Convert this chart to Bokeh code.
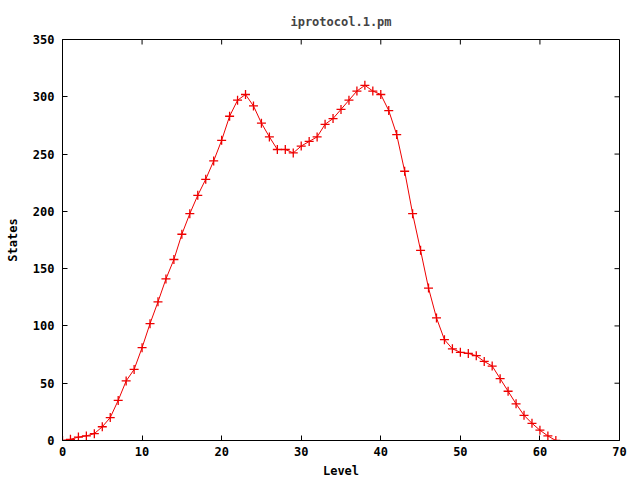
from bokeh.plotting import figure
from bokeh.models import Range1d, FixedTicker
from bokeh.embed import file_html
from bokeh.resources import INLINE

levels = list(range(0, 63))
states = [0, 1, 3, 4, 6, 12, 20, 35, 52, 62,
          81, 102, 121, 141, 158, 180, 198, 214, 228, 244,
          262, 283, 297, 302, 292, 277, 265, 254, 254, 251,
          257, 261, 265, 276, 281, 289, 297, 305, 310, 305,
          302, 288, 267, 235, 198, 166, 133, 107, 88, 80,
          77, 76, 74, 69, 65, 54, 43, 32, 22, 15,
          9, 4, 0]
x_ticks = [0, 10, 20, 30, 40, 50, 60, 70]
y_ticks = [0, 50, 100, 150, 200, 250, 300, 350]
X_MIN, X_MAX = 0, 70
Y_MIN, Y_MAX = 0, 350

FONT = "DejaVu Sans Mono"
FS = "12px"

W, H = 640, 480
BL, BR, BT, BB = 62, 21, 39, 40

p = figure(width=W, height=H, output_backend="svg", toolbar_location=None,
           x_range=Range1d(X_MIN, X_MAX), y_range=Range1d(Y_MIN, Y_MAX),
           min_border_left=BL, min_border_right=BR, min_border_top=BT,
           min_border_bottom=BB, title="iprotocol.1.pm")
p.title.text_font = FONT
p.title.text_font_size = FS
p.title.text_font_style = "bold"
p.title.align = "center"
p.title.vertical_align = "middle"
p.title.standoff = 20
p.grid.visible = False
p.outline_line_color = "black"
p.outline_line_alpha = 1.0
p.background_fill_color = "white"
p.border_fill_color = "white"

xa = p.xaxis[0]
ya = p.yaxis[0]
xa.axis_label = "Level"
ya.axis_label = "States"
xa.ticker = FixedTicker(ticks=x_ticks)
ya.ticker = FixedTicker(ticks=y_ticks)

for ax in [xa, ya]:
    ax.major_tick_in = 5
    ax.major_tick_out = 0
    ax.minor_tick_line_color = None
    ax.axis_line_color = "black"
    ax.major_tick_line_color = "black"
    ax.major_label_text_font = FONT
    ax.major_label_text_font_size = FS
    ax.major_label_text_font_style = "bold"
    ax.major_label_text_color = "black"
    ax.axis_label_text_font = FONT
    ax.axis_label_text_font_size = FS
    ax.axis_label_text_font_style = "bold"
    ax.axis_label_text_color = "black"

xa.major_label_standoff = 6
xa.axis_label_standoff = 5
ya.major_label_standoff = 8
ya.axis_label_standoff = 10

# mirrored inward ticks on top and right edges (gnuplot style)
frame_w = W - BL - BR
frame_h = H - BT - BB
tick_dy = 5 * (Y_MAX - Y_MIN) / frame_h
tick_dx = 5 * (X_MAX - X_MIN) / frame_w
p.segment(x0=x_ticks, y0=[Y_MAX] * len(x_ticks), x1=x_ticks,
          y1=[Y_MAX - tick_dy] * len(x_ticks), line_color="black", line_width=1)
p.segment(x0=[X_MAX] * len(y_ticks), y0=y_ticks, x1=[X_MAX - tick_dx] * len(y_ticks),
          y1=y_ticks, line_color="black", line_width=1)

p.line(levels, states, line_color="#ee0000", line_width=1)
p.scatter(levels, states, marker="cross", size=9, line_color="#ee0000", line_width=1.3)

open("out.html", "w").write(file_html(p, INLINE))
